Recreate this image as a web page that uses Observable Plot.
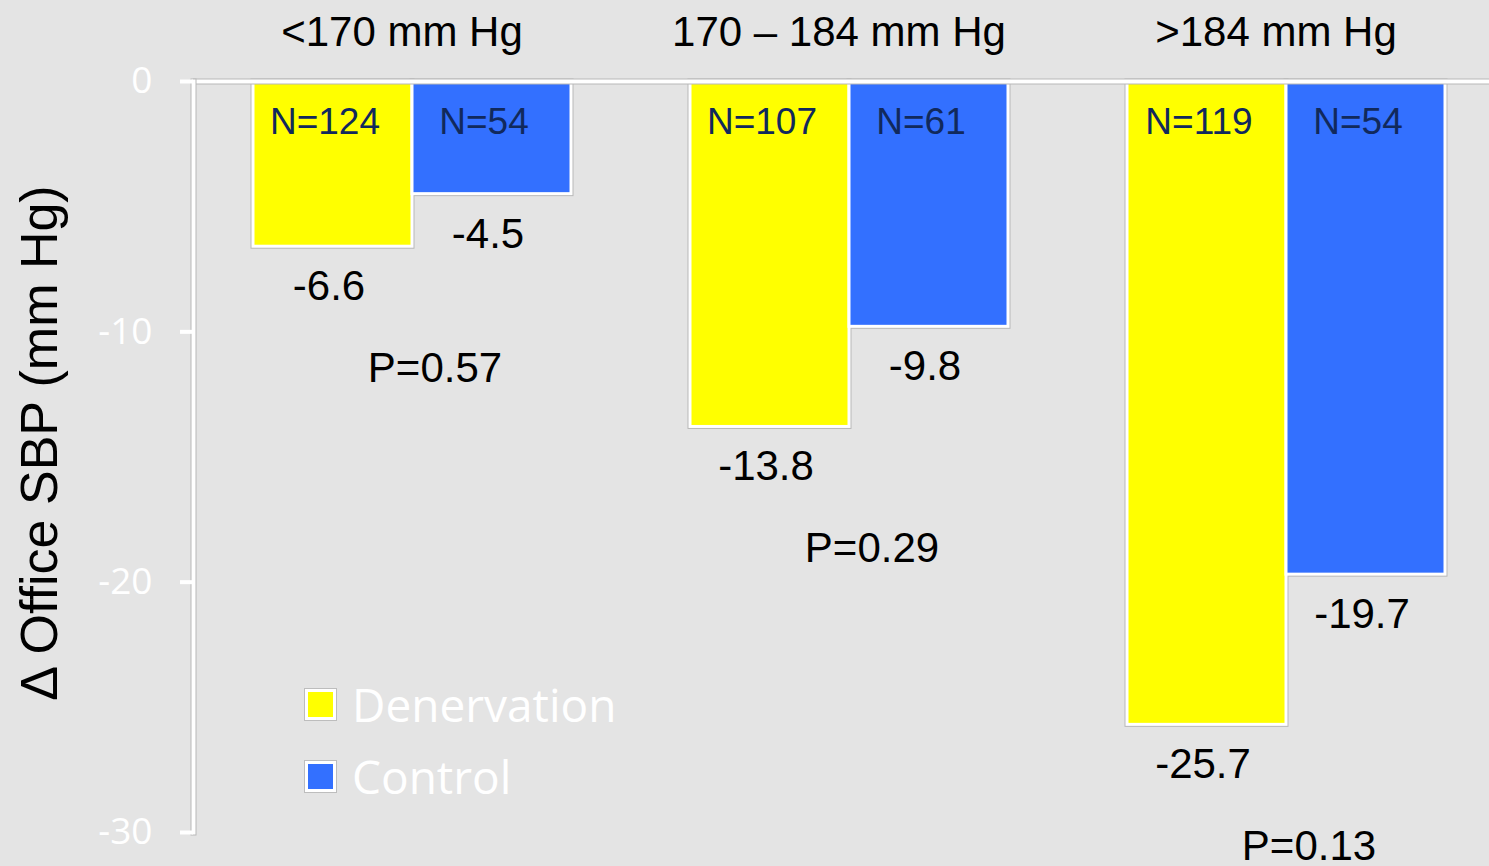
<!DOCTYPE html>
<html>
<head>
<meta charset="utf-8">
<script src="https://cdn.jsdelivr.net/npm/d3@7"></script>
<script src="https://cdn.jsdelivr.net/npm/@observablehq/plot@0.6"></script>
<style>
  body { margin: 0; background: #e4e4e4; }
  #chart { position: relative; width: 1489px; height: 866px; overflow: hidden; }
  .legend { position: absolute; left: 305px; top: 683px; font-family: "Open Sans", sans-serif; font-size: 46px; color: #fff; }
  .legend .item { display: flex; align-items: center; height: 42px; margin-bottom: 30px; }
  .legend .sw { width: 25px; height: 25px; border: 3px solid #fff; box-shadow: 0 0 0 1px #bdbdbd; margin-right: 16px; flex: none; }
</style>
</head>
<body>
<div id="chart"></div>
<script>
// Change in office systolic blood pressure by baseline SBP group
const groups = ["<170 mm Hg", "170 – 184 mm Hg", ">184 mm Hg"];
const series = ["Denervation", "Control"];
const colors = ["#ffff00", "#3370ff"];
const denervation = [-6.6, -13.8, -25.7];
const control = [-4.5, -9.8, -19.7];
const nDenervation = [124, 107, 119];
const nControl = [54, 61, 54];
const pValues = ["0.57", "0.29", "0.13"];
const yDomain = [-30, 0];
const yTicks = [0, -10, -20, -30];
const yLabel = "Δ Office SBP (mm Hg)";

const rows = groups.flatMap((g, i) => [
  {group: g, series: series[0], value: denervation[i], n: nDenervation[i]},
  {group: g, series: series[1], value: control[i], n: nControl[i]}
]);
const pRows = groups.map((g, i) => ({
  group: g,
  low: Math.min(denervation[i], control[i]),
  p: "P=" + pValues[i]
}));

const axisGrey = "#b8b8b8";
const yMid = (yDomain[0] + yDomain[1]) / 2;

const chart = Plot.plot({
  width: 1489,
  height: 866,
  marginTop: 81,
  marginBottom: 34,
  marginLeft: 193,
  marginRight: -15,
  style: {background: "#e4e4e4", fontFamily: "'Liberation Sans', Arial, sans-serif", color: "black"},
  fx: {domain: groups, padding: 0, axis: null},
  x: {domain: series, paddingInner: 0, paddingOuter: 0.374, axis: null},
  y: {domain: yDomain, axis: null},
  color: {domain: series, range: colors},
  marks: [
    // bars: thin grey outline beneath a white border
    Plot.barY(rows, {fx: "group", x: "series", y: "value", fill: "none", stroke: axisGrey, strokeWidth: 5}),
    Plot.barY(rows, {fx: "group", x: "series", y: "value", fill: "series", stroke: "white", strokeWidth: 3}),
    // zero line along the top
    Plot.ruleY([0], {stroke: axisGrey, strokeWidth: 6}),
    Plot.ruleY([0], {stroke: "white", strokeWidth: 4}),
    // vertical value axis line
    Plot.frame({anchor: "left", stroke: axisGrey, strokeWidth: 6, facetAnchor: "left"}),
    Plot.frame({anchor: "left", stroke: "white", strokeWidth: 4, facetAnchor: "left"}),
    Plot.axisY({
      ticks: yTicks,
      tickFormat: d => String(d),
      tickSize: 13,
      tickPadding: 28,
      strokeWidth: 4,
      color: "white",
      fontSize: 37,
      fontFamily: "'Open Sans', sans-serif",
      label: null
    }),
    // group titles
    Plot.text(groups, {fx: d => d, text: d => d, frameAnchor: "top", dy: -65, dx: -10, fontSize: 42, fill: "black"}),
    // sample sizes inside the bars
    Plot.text(rows, {fx: "group", x: "series", y: () => 0, text: d => "N=" + d.n, dy: 41, dx: -8, fontSize: 37, fill: "#11295c"}),
    // value labels under the bars
    Plot.text(rows, {fx: "group", x: "series", y: "value", text: d => d.value.toFixed(1), dy: 40, dx: -4, fontSize: 42, fill: "black"}),
    // p-values
    Plot.text(pRows, {fx: "group", y: "low", text: "p", dx: 23, dy: 122, fontSize: 42, fill: "black"}),
    // value axis title
    Plot.text([{group: groups[0], t: yLabel}], {fx: "group", y: () => yMid, text: "t", frameAnchor: "left", textAnchor: "middle", rotate: -90, dx: -153, dy: -14, fontSize: 52, fill: "black"})
  ]
});

const container = document.getElementById("chart");
container.appendChild(chart);

// legend
const legend = document.createElement("div");
legend.className = "legend";
series.forEach((s, i) => {
  const item = document.createElement("div");
  item.className = "item";
  const sw = document.createElement("span");
  sw.className = "sw";
  sw.style.background = colors[i];
  const label = document.createElement("span");
  label.textContent = s;
  item.appendChild(sw);
  item.appendChild(label);
  legend.appendChild(item);
});
container.appendChild(legend);
</script>
</body>
</html>
